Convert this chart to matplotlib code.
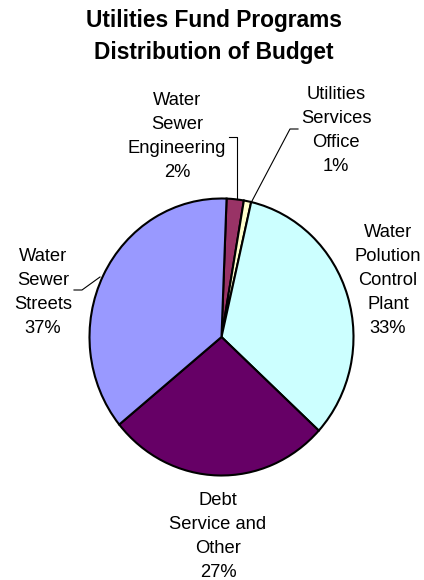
import matplotlib
matplotlib.use("Agg")
import matplotlib.pyplot as plt

# ---- data ----
categories = ["Water Sewer Engineering", "Utilities Services Office",
              "Water Polution Control Plant", "Debt Service and Other",
              "Water Sewer Streets"]
values = [2.1, 0.9, 33.2, 27.3, 36.5]
pct_labels = ["2%", "1%", "33%", "27%", "37%"]
label_text = ["Water\nSewer\nEngineering", "Utilities\nServices\nOffice",
              "Water\nPolution\nControl\nPlant", "Debt\nService and\nOther",
              "Water\nSewer\nStreets"]
colors = ["#993366", "#FFFFCC", "#CCFFFF", "#660066", "#9999FF"]
title = "Utilities Fund Programs\nDistribution of Budget"

plt.rcParams['font.family'] = ['Liberation Sans', 'DejaVu Sans']

W, H = 424, 580
fig = plt.figure(figsize=(W / 100, H / 100), dpi=100)
fig.patch.set_facecolor("white")

# pie placement (pixels)
cx, cy, rx, ry = 221.5, 337.0, 132.0, 138.5
ax = fig.add_axes([(cx - rx) / W, (H - cy - ry) / H, 2 * rx / W, 2 * ry / H])
ax.pie(values, colors=colors, startangle=87.8, counterclock=False,
       radius=1.0, wedgeprops=dict(edgecolor="black", linewidth=1.5))
ax.set_aspect("auto")
ax.set_xlim(-1, 1)
ax.set_ylim(-1, 1)
ax.axis("off")

# overlay in pixel coordinates for labels
ov = fig.add_axes([0, 0, 1, 1], zorder=5)
ov.set_xlim(0, W)
ov.set_ylim(H, 0)
ov.axis("off")
ov.patch.set_alpha(0)

ov.text(213.5, 36.5, title, ha="center", va="center", fontsize=16.4,
        fontweight="bold", linespacing=1.5)

label_pos = [(177, 136.5), (336, 130.5), (388, 280.5), (218, 536.5), (43, 292.5)]
for txt, pct, (x, y) in zip(label_text, pct_labels, label_pos):
    ov.text(x, y, txt + "\n" + pct, ha="center", va="center",
            fontsize=13.2, linespacing=1.55, color="black")

leaders = [
    ([229, 237, 237], [137, 137, 199]),
    ([298, 290, 252], [129, 129, 201]),
    ([74, 82, 100], [290, 290, 277]),
]
for xs, ys in leaders:
    ov.plot(xs, ys, color="black", linewidth=0.8)

fig.savefig("out.png", dpi=100)
